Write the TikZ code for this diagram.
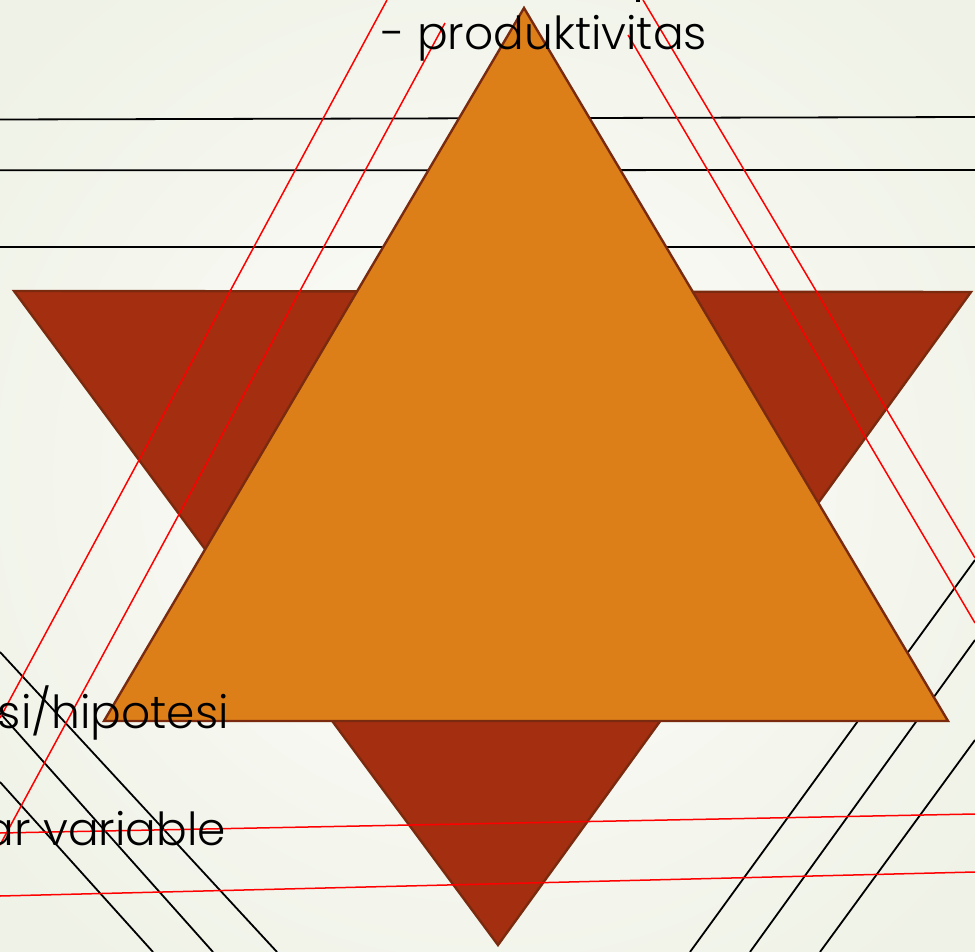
\documentclass[tikz,border=0pt]{standalone}
\usepackage{fontspec}
\setmainfont{Poppins Light}
\definecolor{orangeF}{HTML}{DD7F19}
\definecolor{darkF}{HTML}{A42E10}
\definecolor{edgeC}{HTML}{7A2A0E}
\definecolor{bgIn}{HTML}{FDFDFB}
\definecolor{bgOut}{HTML}{EFF2E6}
\begin{document}
\begin{tikzpicture}[x=1pt,y=-1pt,
  blk/.style={draw=black,line width=1.8pt},
  redl/.style={draw=red,line width=1.5pt},
  tri/.style={draw=edgeC,line width=2.4pt,line join=miter},
  lbl/.style={font=\fontsize{45.5}{52}\selectfont,inner sep=0pt,text=black}]
\useasboundingbox (0,0) rectangle (975,952);
\clip (0,0) rectangle (975,952);
\shade[inner color=bgIn,outer color=bgOut] (-150,-150) rectangle (1125,1102);
% dark downward triangle
\filldraw[tri,fill=darkF] (14,291) -- (971,292) -- (498,945) -- cycle;
% black horizontal lines
\draw[blk] (0,119.5) -- (975,117);
\draw[blk] (0,170.3) -- (975,170);
\draw[blk] (0,247) -- (975,247);
% black diagonals bottom-left
\draw[blk] (0,652) -- (277,952);
\draw[blk] (0,713) -- (213,952);
\draw[blk] (0,782) -- (153,952);
% black diagonals bottom-right
\draw[blk] (690,952) -- (975,560);
\draw[blk] (750,952) -- (975,640);
\draw[blk] (820,952) -- (975,740);
% red lines
\draw[redl] (387,0) -- (0,718);
\draw[redl] (445,23) -- (0,845);
\draw[redl] (643,0) -- (975,558);
\draw[redl] (628,35) -- (975,623);
\draw[redl] (0,833) -- (975,814);
\draw[redl] (0,896) -- (975,872);
% orange upward triangle
\filldraw[tri,fill=orangeF] (524,8) -- (104,721) -- (948,721) -- cycle;
% texts
\node[lbl,anchor=base west] (t1) at (381,50) {- produktivitas};
\node[lbl,anchor=base east] (t2) at (229,728) {si/hipotesi};
\node[lbl,anchor=base east] (t3) at (226,845) {ar variable};
\fill[black] (636,0) rectangle (640,2.5);
\end{tikzpicture}
\end{document}
